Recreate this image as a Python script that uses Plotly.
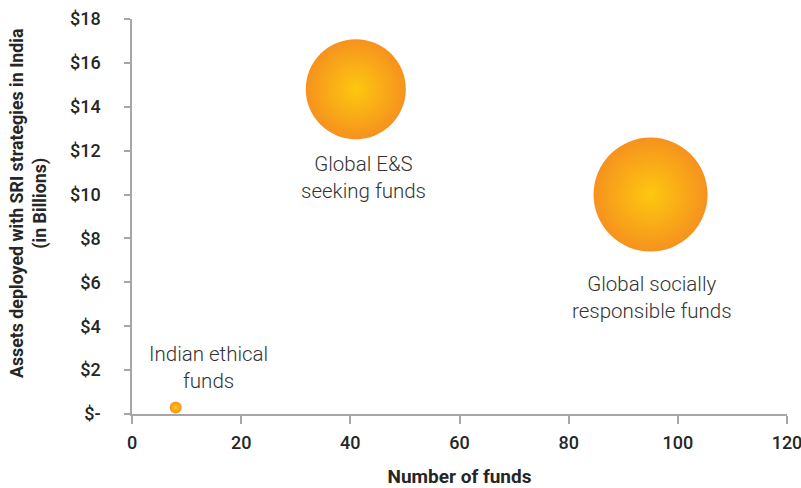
import plotly.graph_objects as go

categories = ["Indian ethical<br>funds", "Global E&S<br>seeking funds", "Global socially<br>responsible funds"]
num_funds = [8, 41, 95]
assets_bn = [0.3, 14.8, 10.0]
bubble_value = [1.1, 77, 100]

x_ticks = [0, 20, 40, 60, 80, 100, 120]
y_ticks = [0, 2, 4, 6, 8, 10, 12, 14, 16, 18]
y_tick_labels = ["$-", "$2", "$4", "$6", "$8", "$10", "$12", "$14", "$16", "$18"]
y_title = "Assets deployed with SRI strategies in India<br>(in Billions)"
x_title = "Number of funds"

# label offsets (style): xshift, yshift, yanchor
label_style = [(33, 12, "bottom"), (8, -61, "top"), (1, -75, "top")]

fig = go.Figure()
fig.add_trace(go.Scatter(
    x=num_funds, y=assets_bn, mode="markers",
    marker=dict(
        size=bubble_value, sizemode="area", sizeref=2 * 100 / 114**2,
        color="#F6921E",
        gradient=dict(type="radial", color="#FDC80F"),
        line=dict(width=0),
        opacity=1,
    ),
    hoverinfo="skip", showlegend=False,
))

for cat, xv, yv, (xs, ys, ya) in zip(categories, num_funds, assets_bn, label_style):
    fig.add_annotation(
        x=xv, y=yv, text=cat, showarrow=False, xanchor="center", yanchor=ya,
        xshift=xs, yshift=ys, align="center",
        font=dict(family="Roboto", size=20.5, color="#333333", weight=300),
    )

# y-axis title as rotated annotation (positioned like the reference)
fig.add_annotation(
    text=y_title, xref="paper", yref="paper", x=0, y=0.534,
    xanchor="center", yanchor="middle", xshift=-104, textangle=-90,
    showarrow=False, align="center",
    font=dict(family="Roboto", size=17.8, weight=700, color="#262626"),
)

axis_color = "#A6A6A6"
fig.update_layout(
    width=801, height=488,
    margin=dict(l=131.5, r=13.7, t=19.3, b=73.5),
    plot_bgcolor="white", paper_bgcolor="white",
    font=dict(family="Roboto", color="#262626"),
    xaxis=dict(
        range=[0, 120], tickvals=x_ticks, showgrid=False, zeroline=False, automargin=False,
        showline=True, linecolor=axis_color, linewidth=1.5,
        ticks="outside", ticklen=8, tickcolor=axis_color, tickwidth=1.5,
        tickfont=dict(size=18, weight=500, color="#262626"),
        ticklabelstandoff=4, ticklabeloverflow="allow",
        title=dict(text=x_title, font=dict(size=19, weight=700, color="#262626"), standoff=24),
    ),
    yaxis=dict(
        range=[0, 18], tickvals=y_ticks, ticktext=y_tick_labels, showgrid=False, zeroline=False, automargin=False,
        showline=True, linecolor=axis_color, linewidth=1.5,
        ticks="outside", ticklen=6, tickcolor=axis_color, tickwidth=1.5,
        tickfont=dict(size=18, weight=500, color="#262626"),
        ticklabelstandoff=20,
    ),
)

fig.write_html("out.html")
